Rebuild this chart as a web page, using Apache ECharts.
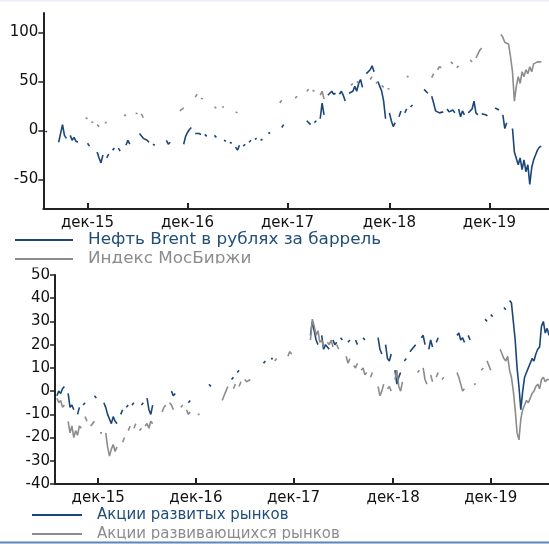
<!DOCTYPE html>
<html>
<head>
<meta charset="utf-8">
<script src="https://cdn.jsdelivr.net/npm/echarts@6/dist/echarts.min.js"></script>
<style>
html,body{margin:0;padding:0;background:#fff;}
#chart{width:549px;height:544px;}
</style>
</head>
<body>
<div id="chart"></div>
<script>
// Weekly observations starting 2015-06-26 (index = week number)
const startDate = '2015-06-26';
const weekCount = 264;

// Top panel: % change, [week, value]; missing weeks are gaps in the drawn line
const brentRub = [
[1,-1],[2,-1],
[8,-12],[9,-3],[10,6],[11,-5],[12,-8],
[14,-5],[15,-10],[16,-7],[17,-11],[18,-12],
[23,-13],[24,-16],
[28,-22],[29,-28],[30,-33],[31,-25],
[33,-28],[34,-24],
[36,-20],[37,-18],
[39,-18],[40,-21],
[43,-15],[44,-10],[45,-14],
[50,-3],[51,-2],[52,-8],[53,-6],[54,-10],[55,-12],
[57,-14],[58,-15],
[64,-10],[65,-14],[66,-12],
[73,-14],[74,-6],[75,-2],[76,1],[77,3],
[79,-3],[80,-5],[81,-3],[82,-4],
[84,-4],[85,-6],
[89,-5],[90,-7],
[94,-10],[95,-11],
[97,-12],[98,-13],
[100,-17],[101,-20],[102,-15],
[104,-16],[105,-14],
[107,-12],[108,-10],
[110,-9],[111,-8],
[113,-10],[114,-9],
[117,-3],[118,-2],
[124,3],[125,6],
[137,10],[138,12],[139,6],
[141,8],[142,10],
[144,12],[145,28],[146,16],
[148,36],[149,38],[150,40],[151,37],[152,38],
[154,37],[155,40],[156,36],[157,30],
[159,38],[160,36],[161,40],[162,45],[163,40],[164,48],[165,52],[166,44],
[168,58],[169,56],[170,62],[171,66],[172,60],
[174,50],[175,45],[176,40],[177,30],[178,12],
[180,18],[181,10],[182,4],[183,8],
[185,14],[186,20],
[188,18],[189,22],
[191,24],[192,26],
[198,42],[199,40],[200,38],
[202,35],[203,28],[204,20],[205,22],[206,18],[207,20],[208,19],
[210,22],[211,19],[212,17],[213,21],[214,18],
[216,22],[217,14],[218,20],[219,16],
[221,18],[222,16],[223,22],[224,30],[225,18],[226,16],
[228,17],[229,19],[230,16],[231,15],
[235,23],[236,24],[237,21],
[239,16],[240,2],[241,8],
[244,2],[245,-22],[246,-20],[247,-35],[248,-28],[249,-40],[250,-30],[251,-42],[252,-35],[253,-55],[254,-38],[255,-30],[256,-25],[257,-20],[258,-17],[259,-16]
];
const moex = [
[22,13],[23,12],[25,9],[26,8],[28,6],[29,4],[32,8],[33,8],
[42,15],[43,16],
[48,18],[49,17],[51,17],[52,13],
[71,20],[72,22],[73,23],
[79,34],[80,37],[82,33],[83,32],
[89,24],[90,23],[93,24],[94,24],
[100,19],[101,18],
[123,28],[124,31],
[131,33],[132,35],
[137,40],[138,42],[140,41],[141,40],
[144,36],[145,40],[146,32],
[160,46],[161,48],[163,50],[164,49],
[170,52],[171,55],[173,48],[174,50],[176,46],[177,44],[179,43],[180,42],
[189,55],[190,55],
[202,54],[203,58],[205,62],[206,65],[207,64],
[212,70],[213,68],[215,64],[216,66],
[222,72],[223,70],[225,74],[226,78],[227,82],[228,84],
[238,98],[239,95],[240,90],[241,92],[242,88],[243,75],[244,60],[245,30],[246,45],[247,55],[248,48],[249,60],[250,55],[251,62],[252,58],[253,65],[254,60],[255,68],[256,66],[257,70],[258,72],[259,70]
];

// Bottom panel
const devMarkets = [
[1,-2],[2,0],[3,-1],[4,1],[5,2],
[7,-1],[8,-7],[9,-6],[10,-8],
[12,-10],[13,-7],
[15,-6],[16,-5],
[21,-2],[22,-3],
[26,-5],[27,-7],[28,-10],[29,-12],[30,-14],[31,-11],[32,-13],[33,-14],
[35,-10],[36,-8],
[38,-7],[39,-6],
[41,-6],[42,-5],
[46,-6],[47,-5],
[49,-3],[50,-8],[51,-10],[52,-6],
[62,0],[63,-2],[64,-1],
[71,-5],[72,-4],
[82,3],[83,2],
[94,5],[95,6],
[97,8],[98,9],
[111,12],[112,13],
[115,14],[116,14],
[136,24],[137,30],[138,26],[139,22],[140,20],
[142,24],[143,18],[144,20],[145,19],[146,18],
[148,22],[149,20],[150,21],
[152,23],[153,22],
[156,21],[157,22],
[160,22],[161,20],
[164,23],[165,22],
[172,23],[173,18],[174,16],
[176,20],[177,14],[178,13],[179,16],
[181,9],[182,3],[183,6],[184,8],
[186,13],[187,14],
[189,17],[190,18],[191,19],[192,20],
[195,23],[196,24],[197,20],
[199,18],[200,22],[201,19],
[203,21],[204,23],
[214,24],[215,25],[216,22],[217,23],[218,21],
[220,24],[221,22],
[229,31],[230,30],
[232,33],[233,32],
[239,36],[240,35],
[242,39],[243,38],[244,30],[245,22],[246,10],[247,2],[248,-8],[249,0],[250,6],[251,8],[252,10],[253,12],[254,14],[255,13],[256,16],[257,18],[258,19],[259,28],[260,30],[261,25],[262,27],[263,24]
];
const emMarkets = [
[1,-3],[2,-5],[3,-4],[4,-7],[5,-6],
[7,-13],[8,-18],[9,-15],[10,-20],[11,-17],[12,-19],[13,-15],[14,-16],
[16,-11],[17,-13],
[19,-15],[20,-14],[21,-13],
[24,-18],[25,-18],
[27,-18],[28,-24],[29,-28],[30,-25],[31,-23],[32,-26],[33,-24],
[36,-22],[37,-20],
[39,-17],[40,-15],
[42,-16],[43,-14],
[45,-17],[46,-16],
[48,-15],[49,-14],[50,-16],[51,-13],[52,-14],
[57,-9],[58,-7],[59,-6],
[61,-5],[62,-6],[63,-8],
[67,-7],[68,-6],
[70,-8],[71,-10],[72,-9],
[76,-10],[77,-10],
[89,-4],[90,-2],[91,0],[92,2],
[95,1],[96,3],
[98,2],[99,4],
[101,5],[102,4],[103,4],[104,5],
[117,13],[118,14],
[124,15],[125,17],[126,16],
[136,22],[137,31],[138,28],[139,24],[140,26],[141,21],[142,22],[143,19],
[145,21],[146,20],[147,22],[148,19],
[150,20],[151,18],
[155,15],[156,12],[157,14],
[159,11],[160,10],[161,12],
[163,9],[164,10],[165,7],[166,8],
[168,6],[169,8],
[172,2],[173,-2],[174,0],[175,3],
[177,1],[178,2],[179,0],
[181,5],[182,9],[183,2],[184,0],[185,4],
[193,8],[194,9],
[196,10],[197,5],[198,3],
[200,7],[201,4],
[203,6],[204,8],
[206,5],[207,6],
[214,8],[215,6],[216,3],[217,0],[218,1],
[223,3],[224,3],
[227,9],[228,10],
[230,13],[231,11],[232,9],
[237,18],[238,16],[239,14],[240,13],[241,15],[242,9],[243,6],[244,0],[245,-8],[246,-18],[247,-21],[248,-12],[249,-8],[250,-6],[251,-4],[252,-5],[253,-3],[254,-1],[255,0],[256,2],[257,3],[258,1],[259,5],[260,6],[261,4],[262,5],[263,5]
];

const topTicks = [-50, 0, 50, 100];
const seriesNames = ['Нефть Brent в рублях за баррель', 'Индекс МосБиржи', 'Акции развитых рынков', 'Акции развивающихся рынков'];

// weekly category labels
const weeks = [];
const t0 = Date.parse(startDate + 'T00:00:00Z');
for (let i = 0; i < weekCount; i++) {
  weeks.push(new Date(t0 + i * 7 * 86400000).toISOString().slice(0, 10));
}
function toSeries(pairs) {
  const arr = new Array(weekCount).fill(null);
  pairs.forEach(p => { arr[p[0]] = p[1]; });
  return arr;
}
const isDecTick = (idx, val) => +val.slice(5, 7) === 12 && +val.slice(8, 10) <= 7;
const decFmt = val => 'дек-' + val.slice(2, 4);

const BLUE = '#1b4679', GREY = '#8c8c8c', TXT = '#111';
const LBLUE = '#1f4e79';
const FONT = 'DejaVu Sans';

function xAxisCfg(gi) {
  return {
    type: 'category', gridIndex: gi, data: weeks, boundaryGap: false,
    axisLine: { onZero: false, lineStyle: { color: '#222', width: 2 } },
    axisTick: { inside: true, length: 6, interval: isDecTick, lineStyle: { color: '#222', width: 2 } },
    axisLabel: { interval: isDecTick, formatter: decFmt, margin: 7, color: TXT, fontFamily: FONT, fontSize: 15 },
    splitLine: { show: false }
  };
}
const lineS = (name, xi, data, color) => ({
  name, type: 'line', xAxisIndex: xi, yAxisIndex: xi, data: toSeries(data),
  symbol: 'none', showSymbol: false, connectNulls: false, animation: false,
  lineStyle: { color, width: 1.6 }, itemStyle: { color }
});
function legendItem(x1, x2, y, tx, color, textColor, text, sx) {
  return [
    { type: 'line', z: 50, shape: { x1, y1: y, x2, y2: y }, style: { stroke: color, lineWidth: 2 } },
    { type: 'text', z: 50, x: tx, y, scaleX: sx, style: { text, fill: textColor, font: '15px "DejaVu Sans"', textVerticalAlign: 'middle', verticalAlign: 'middle' } }
  ];
}

const chart = echarts.init(document.getElementById('chart'), null, { renderer: 'canvas' });
chart.setOption({
  backgroundColor: '#fff',
  animation: false,
  grid: [
    { left: 43.3, top: 12.9, height: 196, right: -9.6 },
    { left: 55, top: 275, height: 209, right: -0.4 }
  ],
  xAxis: [xAxisCfg(0), xAxisCfg(1)],
  yAxis: [
    {
      type: 'value', gridIndex: 0, min: -80, max: 120,
      axisLine: { show: true, lineStyle: { color: '#222', width: 2 } },
      axisTick: { show: true, length: 5, customValues: topTicks, lineStyle: { color: '#222', width: 1.5 } },
      axisLabel: { customValues: topTicks, margin: 5, color: TXT, fontFamily: FONT, fontSize: 15 },
      splitLine: { show: false }
    },
    {
      type: 'value', gridIndex: 1, min: -40, max: 50, interval: 10,
      axisLine: { show: true, lineStyle: { color: '#222', width: 2 } },
      axisTick: { show: true, length: 5, lineStyle: { color: '#222', width: 1.5 } },
      axisLabel: { margin: 5, color: TXT, fontFamily: FONT, fontSize: 15 },
      splitLine: { show: false }
    }
  ],
  series: [
    lineS(seriesNames[0], 0, brentRub, BLUE),
    lineS(seriesNames[1], 0, moex, GREY),
    lineS(seriesNames[2], 1, devMarkets, BLUE),
    lineS(seriesNames[3], 1, emMarkets, GREY)
  ],
  graphic: [].concat(
    legendItem(15, 73, 240, 88, BLUE, LBLUE, seriesNames[0], 1.12),
    legendItem(15, 73, 259, 88, GREY, GREY, seriesNames[1], 1.12),
    legendItem(32, 82, 515, 97, BLUE, LBLUE, seriesNames[2], 1),
    legendItem(32, 82, 534, 97, GREY, GREY, seriesNames[3], 1),
    [
      { type: 'rect', z: 100, shape: { x: 0, y: 0, width: 549, height: 1.5 }, style: { fill: '#e9eef6' } },
      { type: 'rect', z: 100, shape: { x: 0, y: 263.5, width: 400, height: 4 }, style: { fill: '#fff' } },
      { type: 'rect', z: 100, shape: { x: 0, y: 539.5, width: 549, height: 5 }, style: { fill: '#fff' } },
      { type: 'rect', z: 101, shape: { x: 0, y: 541.5, width: 549, height: 2 }, style: { fill: '#5b86b9' } }
    ]
  )
});
</script>
</body>
</html>
